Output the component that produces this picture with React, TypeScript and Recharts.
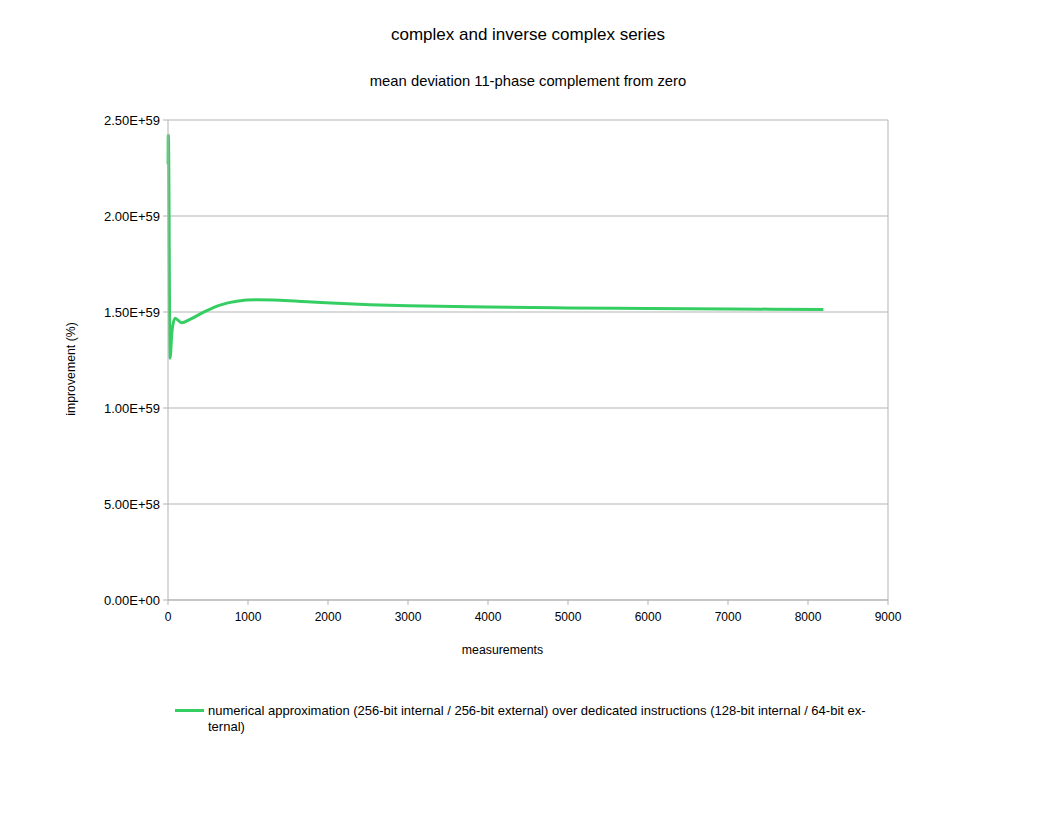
import React from 'react';
import { LineChart, Line, XAxis, YAxis, CartesianGrid, ReferenceLine } from 'recharts';

const measurements = [1, 3, 6, 25, 50, 87, 171, 275, 441, 650, 858, 1100, 1400, 1800, 2108, 2525, 3000, 4000, 5000, 6000, 7000, 8192];
const improvement = [2.27e59, 2.42e59, 2.41e59, 1.26e59, 1.4e59, 1.467e59, 1.444e59, 1.462e59, 1.498e59, 1.536e59, 1.556e59, 1.5635e59, 1.561e59, 1.552e59, 1.545e59, 1.538e59, 1.533e59, 1.526e59, 1.521e59, 1.518e59, 1.516e59, 1.513e59];
const xTicks = [0, 1000, 2000, 3000, 4000, 5000, 6000, 7000, 8000, 9000];
const yTicks = [0, 5e58, 1e59, 1.5e59, 2e59, 2.5e59];

const title = 'complex and inverse complex series';
const subtitle = 'mean deviation 11-phase complement from zero';
const xLabel = 'measurements';
const yLabel = 'improvement (%)';
const seriesName1 = 'numerical approximation (256-bit internal / 256-bit external) over dedicated instructions (128-bit internal / 64-bit ex-';
const seriesName2 = 'ternal)';

const data = measurements.map((m, i) => ({ x: m, y: improvement[i] }));

const fmt = (v: number) => {
  if (v === 0) return '0.00E+00';
  const [m, e] = v.toExponential(2).split('e');
  const n = parseInt(e, 10);
  return m + 'E' + (n < 0 ? '-' : '+') + String(Math.abs(n)).padStart(2, '0');
};

const FONT = '"Liberation Sans", Arial, sans-serif';
const GRAY = '#b3b3b3';
const GREEN = '#34ce63';

export default function App() {
  return (
    <div style={{ position: 'absolute', left: 0, top: 0, width: 1056, height: 816, background: '#fff', fontFamily: FONT, color: '#000' }}>
      <div style={{ position: 'absolute', left: 0, width: 1056, top: 25, textAlign: 'center', fontSize: 17, whiteSpace: 'nowrap' }}>{title}</div>
      <div style={{ position: 'absolute', left: 0, width: 1056, top: 73, textAlign: 'center', fontSize: 14.8, whiteSpace: 'nowrap' }}>{subtitle}</div>
      <div style={{ position: 'absolute', left: 0, top: 0 }}>
        <LineChart width={1056} height={816} data={data} margin={{ top: 120, right: 168, bottom: 186, left: 0 }}>
          <CartesianGrid vertical={false} stroke={GRAY} strokeDasharray="" />
          <XAxis
            dataKey="x"
            type="number"
            domain={[0, 9000]}
            ticks={xTicks}
            height={30}
            stroke={GRAY}
            tickSize={5}
            tickMargin={7}
            tick={{ fill: '#000', fontSize: 12, fontFamily: FONT }}
            interval={0}
          />
          <YAxis
            type="number"
            domain={[0, 2.5e59]}
            ticks={yTicks}
            width={168}
            stroke={GRAY}
            tickSize={5}
            tickMargin={3}
            tickFormatter={fmt}
            tick={{ fill: '#000', fontSize: 13, fontFamily: FONT }}
            interval={0}
          />
          <ReferenceLine x={9000} stroke={GRAY} />
          <Line
            dataKey="y"
            type="monotone"
            stroke={GREEN}
            strokeWidth={3}
            dot={false}
            isAnimationActive={false}
          />
        </LineChart>
      </div>
      <div style={{ position: 'absolute', left: 0, width: 1005, top: 643, textAlign: 'center', fontSize: 12.3, whiteSpace: 'nowrap' }}>{xLabel}</div>
      <div style={{ position: 'absolute', left: 71, top: 369, width: 0, height: 0 }}>
        <div style={{ position: 'absolute', transform: 'translate(-50%, -50%) rotate(-90deg)', whiteSpace: 'nowrap', fontSize: 12.3 }}>{yLabel}</div>
      </div>
      <div style={{ position: 'absolute', left: 175, top: 709, width: 29, height: 3, background: GREEN }} />
      <div style={{ position: 'absolute', left: 208, top: 703, fontSize: 13, lineHeight: '16px', whiteSpace: 'nowrap' }}>
        {seriesName1}
        <br />
        {seriesName2}
      </div>
    </div>
  );
}
